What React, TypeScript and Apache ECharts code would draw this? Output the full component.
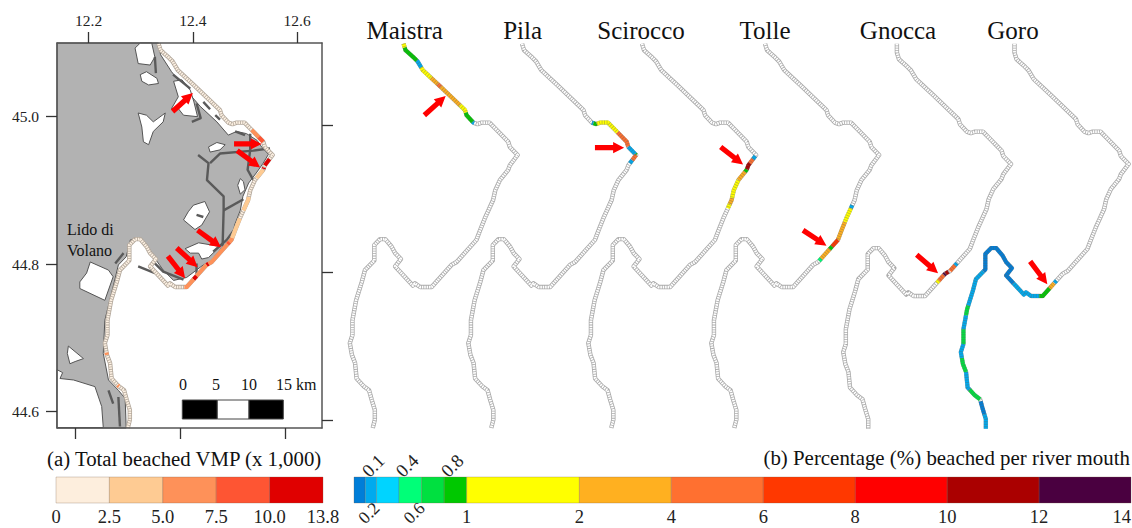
import React, { useEffect, useRef } from "react";
import * as echarts from "echarts";

type Pt = number[];

const lonTicks = [12.2, 12.4, 12.6];
const latTicks = [44.6, 44.8, 45.0];

// coastline cells, lon / lat
const coast: Pt[] = [
  [12.334,45.099],[12.338,45.090],[12.343,45.087],[12.354,45.080],[12.361,45.075],[12.371,45.063],[12.403,45.042],
  [12.452,45.009],[12.455,45.002],[12.468,44.992],[12.476,44.990],[12.484,44.992],[12.499,44.992],[12.513,44.982],
  [12.535,44.966],[12.538,44.959],[12.553,44.948],[12.538,44.934],[12.535,44.928],[12.519,44.914],[12.510,44.900],
  [12.506,44.887],[12.497,44.873],[12.490,44.862],[12.481,44.846],[12.474,44.833],[12.436,44.803],[12.426,44.799],
  [12.388,44.769],[12.366,44.769],[12.356,44.774],[12.352,44.771],[12.318,44.797],[12.329,44.807],[12.318,44.815],
  [12.311,44.824],[12.299,44.834],[12.289,44.834],[12.278,44.826],[12.278,44.805],[12.260,44.792],[12.254,44.776],
  [12.243,44.751],[12.236,44.724],[12.236,44.704],[12.231,44.693],[12.235,44.677],[12.241,44.666],[12.244,44.645],
  [12.257,44.635],[12.268,44.629],[12.273,44.616],[12.279,44.602],[12.279,44.589],[12.275,44.578],
];
const shiftedCoast: Pt[] = [[12.334,45.111], ...coast.slice(0, 54)];

const land: Pt[] = [
  [12.334,45.0999],[12.338,45.084],[12.359,45.061],[12.398,45.027],[12.414,45.014],[12.446,44.993],[12.468,44.975],
  [12.484,44.980],[12.503,44.977],[12.523,44.968],[12.532,44.959],[12.545,44.949],[12.535,44.937],[12.523,44.925],
  [12.507,44.910],[12.496,44.892],[12.491,44.873],[12.480,44.853],[12.475,44.833],[12.455,44.822],[12.433,44.803],
  [12.420,44.799],[12.388,44.782],[12.363,44.778],[12.343,44.792],[12.327,44.808],[12.311,44.827],[12.295,44.835],
  [12.280,44.833],[12.272,44.810],[12.257,44.799],[12.244,44.761],[12.231,44.724],[12.228,44.679],[12.238,44.643],
  [12.257,44.629],[12.270,44.618],[12.272,44.5779],[12.1392,44.5779],[12.1392,45.0999],
];

const lagoons: Pt[][] = [
  [[12.299,45.0999],[12.321,45.0999],[12.327,45.081],[12.318,45.070],[12.295,45.072],[12.289,45.093]],
  [[12.299,45.057],[12.311,45.061],[12.331,45.052],[12.334,45.045],[12.315,45.043],[12.302,45.048]],
  [[12.363,45.048],[12.379,45.050],[12.395,45.036],[12.402,45.020],[12.409,45.000],[12.382,45.002],[12.372,45.011],[12.359,45.011],[12.372,45.027]],
  [[12.295,45.005],[12.311,45.002],[12.324,44.993],[12.347,45.005],[12.343,44.993],[12.324,44.980],[12.315,44.962],[12.305,44.966],[12.302,44.986]],
  [[12.430,44.959],[12.446,44.965],[12.462,44.962],[12.452,44.955],[12.433,44.952]],
  [[12.491,44.916],[12.497,44.912],[12.500,44.901],[12.491,44.895],[12.486,44.907]],
  [[12.401,44.880],[12.423,44.885],[12.432,44.871],[12.417,44.853],[12.404,44.847],[12.382,44.860],[12.391,44.871]],
  [[12.385,44.821],[12.411,44.829],[12.436,44.826],[12.452,44.824],[12.430,44.809],[12.417,44.807],[12.411,44.815],[12.395,44.815]],
  [[12.203,44.803],[12.238,44.792],[12.247,44.783],[12.231,44.751],[12.183,44.767],[12.183,44.776],[12.196,44.788]],
  [[12.161,44.689],[12.190,44.672],[12.174,44.668],[12.164,44.665],[12.159,44.679]],
  [[12.1392,44.657],[12.150,44.653],[12.145,44.645],[12.171,44.643],[12.212,44.634],[12.225,44.607],[12.228,44.5785],[12.1392,44.5785]],
];

const channels: Pt[][] = [
  [[12.410,44.948],[12.430,44.937],[12.427,44.914],[12.459,44.892],[12.459,44.873],[12.457,44.824]],
  [[12.459,44.873],[12.497,44.888]],
  [[12.433,44.937],[12.452,44.950],[12.516,44.954],[12.548,44.957]],
  [[12.510,44.977],[12.510,44.955],[12.505,44.928],[12.516,44.914]],
  [[12.362,45.057],[12.395,45.038]],
  [[12.407,45.018],[12.415,44.998],[12.398,44.993]],
  [[12.420,45.020],[12.433,45.010]],
  [[12.443,45.002],[12.452,44.996]],
  [[12.481,44.980],[12.500,44.975]],
  [[12.327,45.081],[12.329,45.059]],
  [[12.484,44.851],[12.465,44.833],[12.439,44.817]],
  [[12.407,44.801],[12.407,44.781]],
  [[12.295,44.797],[12.327,44.788]],
  [[12.327,44.801],[12.343,44.790],[12.382,44.779]],
  [[12.267,44.815],[12.251,44.801]],
  [[12.238,44.629],[12.247,44.611]],
  [[12.257,44.620],[12.260,44.580]],
  [[12.407,44.867],[12.420,44.864]],
];

// [from cell, to cell, total beached x 1000]
const totalStretches: number[][] = [
  [13,13.6,6],[13.6,14,9],[16.4,17,12],[17.5,17.8,12],[18,18.8,3.5],[20.7,22,3.5],[23,24.8,3.5],[24.8,25.1,6],
  [25.1,25.2,9],[25.2,26.6,6],[26.6,27,12],[27,27.5,6],[27.5,27.65,12],[27.65,28.2,6],[45.8,46,6],[48.9,49.1,6],
];

// [from cell, to cell, percent beached]
const maistra: number[][] = [
  [0,0.6,1.5],[0.6,3.8,0.9],[3.8,4.7,0.15],[4.7,5.5,1.5],[5.5,5.9,3],[5.9,6.05,5],[6.05,6.8,3],[6.8,7.5,1.5],[7.5,8.9,0.9],[8.9,9.2,0.15],
];
const pila: number[][] = [
  [9,9.4,0.15],[9.4,10.2,0.9],[10.2,13.2,1.5],[13.2,14.9,5],[15,15.9,0.15],[15.9,16,0.9],[16,16.5,5],[16.5,16.8,0.15],
];
const scirocco: number[][] = [
  [16.1,16.4,0.15],[16.4,16.8,5],[16.8,17.9,11],[17.9,18.2,0.9],[18.2,19,3],[19,20.8,1.5],[20.8,21.4,3],[21.4,21.8,1.5],
];
const tolle: number[][] = [
  [21.5,21.8,0.15],[21.8,23.3,1.5],[23.3,25,3],[25,25.3,7],[25.3,25.42,0.9],[25.42,25.85,3],[25.85,25.95,0.5],
];
const gnocca: number[][] = [
  [25.65,25.75,0.15],[25.75,26.1,5],[26.3,26.9,11],[26.9,27.05,13],[27.05,27.3,5],[27.3,27.4,1.5],
];
const goro: number[][] = [
  [27.3,27.4,0.15],[27.42,27.65,3],[27.65,28.3,0.9],[28.3,31.6,0.15],[31.6,39.2,0.05],[39.2,41.8,0.15],[41.8,42.3,0.7],
  [42.3,43,0.15],[43,44,0.7],[44,45.5,0.15],[45.5,47,0.7],[47,48.3,0.15],[48.3,50,0.7],[50.2,51.5,0.05],[51.5,53,0.15],
];

// [tail lon, tail lat, head lon, head lat]
const mapArrows: number[][] = [
  [12.361,45.007,12.400,45.032],[12.479,44.963,12.532,44.963],[12.485,44.954,12.529,44.931],
  [12.409,44.846,12.454,44.823],[12.369,44.822,12.409,44.796],[12.352,44.811,12.385,44.781],
];
const riverArrows: number[][] = [
  [12.374,45.002,12.415,45.028],[12.474,44.958,12.530,44.958],[12.485,44.959,12.528,44.935],
  [12.407,44.846,12.452,44.825],[12.372,44.825,12.413,44.800],[12.364,44.816,12.397,44.785],
];

const riverNames = ["Maistra", "Pila", "Scirocco", "Tolle", "Gnocca", "Goro"];
const riverStretches = [maistra, pila, scirocco, tolle, gnocca, goro];

const totalBreaks = [0, 2.5, 5.0, 7.5, 10.0, 13.8];
const totalColors = ["#fdeedd", "#fecb93", "#fe9159", "#fe5533", "#e00000"];
const totalLabels = ["0", "2.5", "5.0", "7.5", "10.0", "13.8"];

const percentBreaks = [0, 0.1, 0.2, 0.4, 0.6, 0.8, 1, 2, 4, 6, 8, 10, 12, 14];
const percentColors = ["#007ed8", "#00aaee", "#00d4ff", "#00ff78", "#00e040", "#00c800", "#ffff00", "#ffb020", "#ff7030", "#ff3800", "#ff0000", "#aa0000", "#4a0040"];
const upperLabels = [0.1, 0.4, 0.8];
const lowerRotated = [0.2, 0.6];
const lowerPlain = [1, 2];
const upperRange = [4, 6, 8, 10, 12, 14];

const SERIF = "Liberation Serif";
const MAP = { left: 57, top: 43, width: 265, height: 385, outerBoundsMode: "none" };
const panelDx = [245, 363.5, 483.5, 606.5, 738.4, 856];
const panelDy = [0, 0, 0, 0, 9, 9];
const lonRange = [12.1392, 12.6478];
const latRange = [44.5779, 45.0999];

function colorFor(v: number, breaks: number[], colors: string[]) {
  for (let i = 0; i < colors.length; i++) if (v < breaks[i + 1]) return colors[i];
  return colors[colors.length - 1];
}
function at(t: number): Pt {
  const i = Math.min(Math.floor(t), coast.length - 2);
  const f = t - i;
  return [coast[i][0] + (coast[i + 1][0] - coast[i][0]) * f, coast[i][1] + (coast[i + 1][1] - coast[i][1]) * f];
}
function stretch(a: number, b: number): Pt[] {
  const out = [at(a)];
  for (let i = Math.ceil(a); i <= Math.floor(b); i++) if (i > a && i < b) out.push(coast[i]);
  out.push(at(b));
  return out;
}

function lineSeries(data: Pt[], idx: number, color: string, width: number, z: number, dash?: number[]) {
  return {
    type: "line", data, xAxisIndex: idx, yAxisIndex: idx, symbol: "none", clip: false, silent: true, z,
    lineStyle: { color, width, type: dash || "solid", cap: "butt", join: "round" },
  };
}
function polySeries(pts: Pt[], fill: string, stroke: string, z: number) {
  return {
    type: "custom", xAxisIndex: 0, yAxisIndex: 0, z, silent: true, data: [pts[0]],
    renderItem: (_: any, api: any) => ({
      type: "polygon",
      shape: { points: pts.map((p) => api.coord(p)) },
      style: { fill, stroke, lineWidth: 1, lineJoin: "round" },
    }),
  };
}
function arrowSeries(data: number[][], idx: number) {
  return {
    type: "custom", xAxisIndex: idx, yAxisIndex: idx, z: 9, silent: true, clip: false, data,
    encode: { x: [0, 2], y: [1, 3] },
    renderItem: (_: any, api: any) => {
      const a = api.coord([api.value(0), api.value(1)]);
      const b = api.coord([api.value(2), api.value(3)]);
      const dx = b[0] - a[0], dy = b[1] - a[1], len = Math.hypot(dx, dy);
      const ux = dx / len, uy = dy / len, nx = -uy, ny = ux;
      const sw = 2.6, hw = 5.6, hl = 11;
      const cx = b[0] - ux * hl, cy = b[1] - uy * hl;
      return {
        type: "polygon",
        shape: { points: [
          [a[0] + nx * sw, a[1] + ny * sw], [cx + nx * sw, cy + ny * sw], [cx + nx * hw, cy + ny * hw], b,
          [cx - nx * hw, cy - ny * hw], [cx - nx * sw, cy - ny * sw], [a[0] - nx * sw, a[1] - ny * sw],
        ] },
        style: { fill: "#ff0000" },
      };
    },
  };
}
function cellSeries(breaks: number[], colors: string[], axis: number, yAxis: number, lo: number, hi: number) {
  const data: number[][] = [];
  colors.forEach((_, i) => { if (breaks[i] >= lo && breaks[i + 1] <= hi) data.push([breaks[i], breaks[i + 1], i]); });
  return {
    type: "custom", xAxisIndex: axis, yAxisIndex: yAxis, z: 3, silent: true, data,
    encode: { x: [0, 1] },
    renderItem: (_: any, api: any) => {
      const a = api.coord([api.value(0), 0]);
      const b = api.coord([api.value(1), 1]);
      const fill = colors[api.value(2)];
      return {
        type: "rect",
        shape: { x: a[0], y: b[1], width: b[0] - a[0], height: a[1] - b[1] },
        style: { fill, stroke: "rgba(120,90,70,0.35)", lineWidth: 0.8 },
      };
    },
  };
}
const txt = (text: string, x: number, y: number, size: number, align = "center") => ({
  type: "text", x, y, silent: true, z: 20,
  style: { text, fontFamily: SERIF, fontSize: size, fill: "#111", align, verticalAlign: "middle" },
});

function buildOption() {
  const grids: any[] = [{ ...MAP }];
  const xAxes: any[] = [];
  const yAxes: any[] = [];
  const series: any[] = [];
  const frame = { show: true, onZero: false, lineStyle: { color: "#555", width: 1.5 } };
  const tick = (values: number[]) => ({ show: true, length: 11, customValues: values, lineStyle: { color: "#333", width: 1.3 } });

  xAxes.push({
    type: "value", gridIndex: 0, position: "top", min: lonRange[0], max: lonRange[1], z: 10,
    axisLine: frame, axisTick: tick(lonTicks), splitLine: { show: false },
    axisLabel: { customValues: lonTicks, margin: 15, fontFamily: SERIF, fontSize: 15.5, color: "#222", formatter: (v: number) => v.toFixed(1) },
  });
  yAxes.push({
    type: "value", gridIndex: 0, position: "left", min: latRange[0], max: latRange[1], z: 10,
    axisLine: frame, axisTick: tick(latTicks), splitLine: { show: false },
    axisLabel: { customValues: latTicks, margin: 18, fontFamily: SERIF, fontSize: 15.5, color: "#222", formatter: (v: number) => v.toFixed(1) },
  });
  xAxes.push({
    type: "value", gridIndex: 0, position: "bottom", min: 12.1658, max: 12.669, z: 10,
    axisLine: frame, axisTick: tick(lonTicks), axisLabel: { show: false }, splitLine: { show: false },
  });
  yAxes.push({
    type: "value", gridIndex: 0, position: "right", min: 44.589, max: 45.112, z: 10,
    axisLine: frame, axisTick: tick(latTicks), axisLabel: { show: false }, splitLine: { show: false },
  });

  series.push(polySeries(land, "#b2b2b2", "#555", 2));
  lagoons.forEach((l) => series.push(polySeries(l, "#ffffff", "#555", 3)));
  channels.forEach((c) => series.push(lineSeries(c, 0, "#5a5a5a", 2.4, 4)));
  series.push(lineSeries(coast, 0, "#b3a89c", 4.4, 5));
  series.push(lineSeries(coast, 0, "#fdf1e3", 2.8, 6, [1.6, 0.8]));
  totalStretches.forEach(([a, b, v]) => series.push(lineSeries(stretch(a, b), 0, colorFor(v, totalBreaks, totalColors), 4, 7)));
  series.push(arrowSeries(mapArrows, 0));

  panelDx.forEach((dx, i) => {
    const gridIdx = i + 1;
    const axisIdx = xAxes.length;
    grids.push({ left: MAP.left + dx, top: MAP.top + panelDy[i], width: MAP.width, height: MAP.height, outerBoundsMode: "none" });
    xAxes.push({ type: "value", gridIndex: gridIdx, min: lonRange[0], max: lonRange[1], show: false });
    yAxes.push({ type: "value", gridIndex: gridIdx, min: latRange[0], max: latRange[1], show: false });
    const base = panelDy[i] ? shiftedCoast : coast;
    series.push(lineSeries(base, axisIdx, "#ababab", 4.4, 5));
    series.push(lineSeries(base, axisIdx, "#ffffff", 2.8, 6, [1.6, 0.8]));
    riverStretches[i].forEach(([a, b, v]) => {
      const pts = stretch(a, b);
      series.push(lineSeries(pts, axisIdx, colorFor(v, percentBreaks, percentColors), 4, 7));
      series.push(lineSeries(pts, axisIdx, "rgba(95,95,95,0.38)", 4, 8, [0.9, 1.6]));
    });
    series.push(arrowSeries([riverArrows[i]], axisIdx));
  });

  // colour bar (a)
  const barTop = 477, barH = 26;
  const labelFont = { fontFamily: SERIF, fontSize: 18.5, color: "#222" };
  const hidden = { axisLine: { show: false }, axisTick: { show: false }, splitLine: { show: false } };
  const g7 = grids.length;
  grids.push({ left: 56, top: barTop, width: 267, height: barH, outerBoundsMode: "none" });
  const xa = xAxes.length;
  xAxes.push({
    type: "value", gridIndex: g7, position: "bottom", min: 0, max: 5, interval: 1, ...hidden,
    axisLabel: { ...labelFont, margin: 4, formatter: (v: number) => totalLabels[v] },
  });
  const ya = yAxes.length;
  yAxes.push({ type: "value", gridIndex: g7, min: 0, max: 1, show: false });
  series.push(cellSeries([0, 1, 2, 3, 4, 5], totalColors, xa, ya, 0, 5));

  // colour bar (b), 0 to 2
  const g8 = grids.length;
  const lowBar = { left: 354, top: barTop, width: 225.4, height: barH, outerBoundsMode: "none" };
  grids.push(lowBar);
  const xb = xAxes.length;
  xAxes.push({ type: "value", gridIndex: g8, position: "top", min: 0, max: 2, ...hidden,
    axisLabel: { ...labelFont, rotate: 45, customValues: upperLabels, margin: 3 } });
  xAxes.push({ type: "value", gridIndex: g8, position: "bottom", min: 0, max: 2, ...hidden,
    axisLabel: { ...labelFont, fontSize: 17.5, rotate: 45, customValues: lowerRotated, margin: 2 } });
  const yb = yAxes.length;
  yAxes.push({ type: "value", gridIndex: g8, min: 0, max: 1, show: false });
  series.push(cellSeries(percentBreaks, percentColors, xb, yb, 0, 2));

  const gPlain = grids.length;
  grids.push({ ...lowBar });
  xAxes.push({ type: "value", gridIndex: gPlain, position: "bottom", min: 0, max: 2, ...hidden,
    axisLabel: { ...labelFont, customValues: lowerPlain, margin: 4 } });
  yAxes.push({ type: "value", gridIndex: gPlain, min: 0, max: 1, show: false });

  // colour bar (b), 2 to 14
  const g9 = grids.length;
  grids.push({ left: 579.4, top: barTop, width: 551.6, height: barH, outerBoundsMode: "none" });
  const xc = xAxes.length;
  xAxes.push({ type: "value", gridIndex: g9, position: "bottom", min: 2, max: 14, ...hidden,
    axisLabel: { ...labelFont, customValues: upperRange, margin: 4, alignMaxLabel: "right" } });
  const yc = yAxes.length;
  yAxes.push({ type: "value", gridIndex: g9, min: 0, max: 1, show: false });
  series.push(cellSeries(percentBreaks, percentColors, xc, yc, 2, 14));

  const titleX = [404.7, 522.6, 641, 765, 898, 1013];
  const graphic: any[] = riverNames.map((n, i) => txt(n, titleX[i], 30, 25));
  graphic.push(txt("(a) Total beached VMP (x 1,000)", 47, 458, 20.8, "left"));
  graphic.push(txt("(b) Percentage (%) beached per river mouth", 1130, 458, 20.9, "right"));
  graphic.push(txt("Lido di", 67, 229, 16, "left"));
  graphic.push(txt("Volano", 67, 250, 16, "left"));
  graphic.push(txt("0", 183, 384, 16), txt("5", 216, 384, 16), txt("10", 249, 384, 16), txt("15 km", 276, 384, 16, "left"));
  const rect = (x: number, w: number, fill: string) => ({
    type: "rect", z: 20, silent: true, shape: { x, y: 400, width: w, height: 19 }, style: { fill, stroke: "#444", lineWidth: 1 },
  });
  graphic.push(rect(182.3, 35, "#000"), rect(217.3, 31.7, "#fff"), rect(249, 34.3, "#000"));

  return { animation: false, backgroundColor: "#fff", grid: grids, xAxis: xAxes, yAxis: yAxes, series, graphic };
}

export default function App() {
  const ref = useRef<HTMLDivElement>(null);
  useEffect(() => {
    document.body.style.margin = "0";
    const chart = echarts.init(ref.current!, undefined, { renderer: "svg" });
    chart.setOption(buildOption() as any);
    return () => chart.dispose();
  }, []);
  return <div ref={ref} style={{ width: 1132, height: 528 }} />;
}
